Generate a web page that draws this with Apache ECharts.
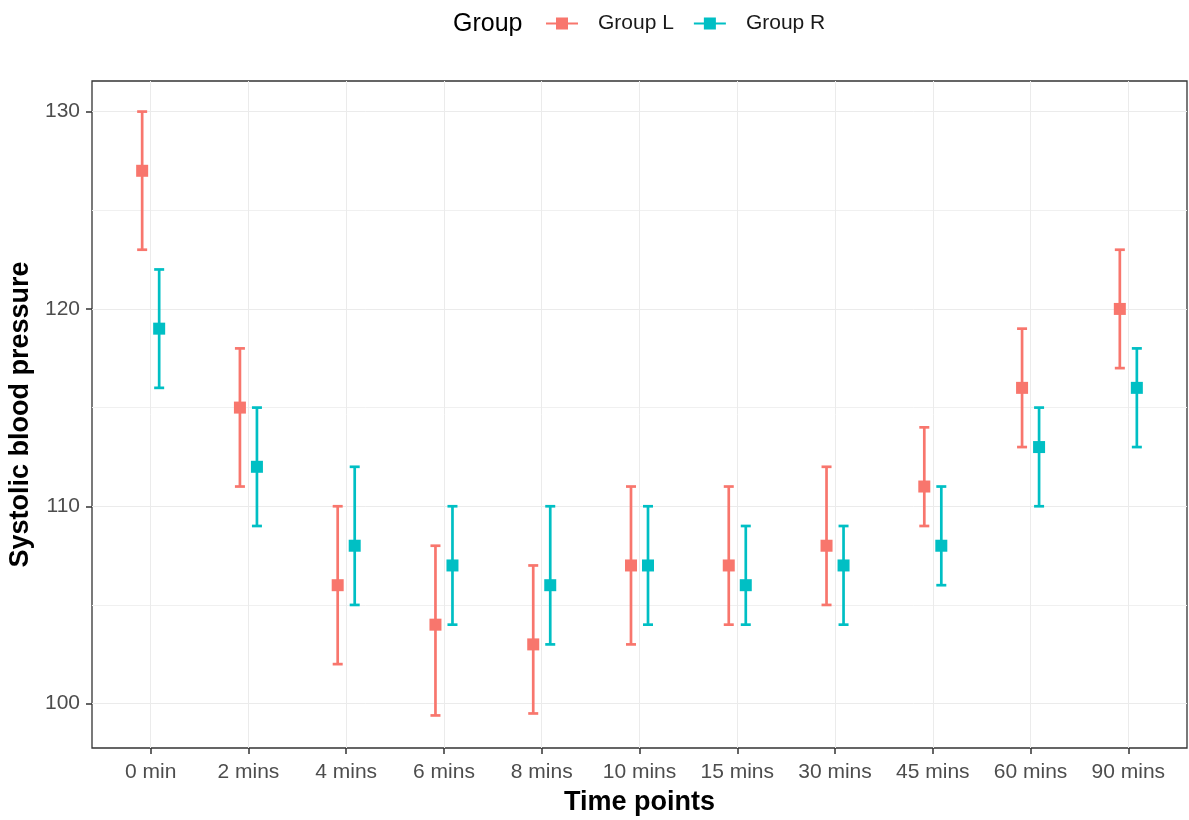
<!DOCTYPE html>
<html>
<head>
<meta charset="utf-8">
<title>Systolic blood pressure by time point</title>
<script src="https://cdn.jsdelivr.net/npm/echarts@6/dist/echarts.min.js"></script>
<style>
  html, body { margin: 0; padding: 0; background: #ffffff; }
  #chart { width: 1189px; height: 820px; }
</style>
</head>
<body>
<div id="chart"></div>
<script>
// Time points on the x axis
const categories = ['0 min', '2 mins', '4 mins', '6 mins', '8 mins', '10 mins', '15 mins', '30 mins', '45 mins', '60 mins', '90 mins'];

// Group L: mean systolic blood pressure with lower / upper bounds
const meanL  = [127, 115, 106, 104,  103,  107, 107, 108, 111, 116, 120];
const lowerL = [123, 111, 102, 99.4, 99.5, 103, 104, 105, 109, 113, 117];
const upperL = [130, 118, 110, 108,  107,  111, 111, 112, 114, 119, 123];

// Group R: mean systolic blood pressure with lower / upper bounds
const meanR  = [119, 112, 108, 107, 106, 107, 106, 107, 108, 113, 116];
const lowerR = [116, 109, 105, 104, 103, 104, 104, 104, 106, 110, 113];
const upperR = [122, 115, 112, 110, 110, 110, 109, 109, 111, 115, 118];

// Y axis tick labels (major) and minor grid values
const yTicks = [100, 110, 120, 130];
const yMinor = [105, 115, 125];

const groups = ['Group L', 'Group R'];
const colors = ['#F8766D', '#00BFC4'];
const dodge = 0.087;          // horizontal shift of each group from the category centre
const FONT = '"Liberation Sans", Arial, sans-serif';

const xIndex = categories.map((_, i) => i);

function points(mean, shift) {
  return mean.map((v, i) => [i + shift, v]);
}
function bars(lower, upper, shift) {
  return lower.map((lo, i) => [i + shift, lo, upper[i]]);
}

function errorBar(color) {
  return function (params, api) {
    const x = api.value(0);
    const lo = api.coord([x, api.value(1)]);
    const hi = api.coord([x, api.value(2)]);
    const half = 5;
    const style = { stroke: color, lineWidth: 2.7, fill: null };
    return {
      type: 'group',
      children: [
        { type: 'line', shape: { x1: lo[0], y1: lo[1], x2: hi[0], y2: hi[1] }, style },
        { type: 'line', shape: { x1: lo[0] - half, y1: lo[1], x2: lo[0] + half, y2: lo[1] }, style },
        { type: 'line', shape: { x1: hi[0] - half, y1: hi[1], x2: hi[0] + half, y2: hi[1] }, style }
      ]
    };
  };
}

const legendIcon = 'path://M0,5h32v2h-32z M10,0h12v12h-12z';

const chart = echarts.init(document.getElementById('chart'), null, { renderer: 'canvas' });

chart.setOption({
  animation: false,
  backgroundColor: '#ffffff',
  textStyle: { fontFamily: FONT },
  graphic: [{
    type: 'text',
    left: 453,
    top: 12,
    style: { text: 'Group', fontSize: 25, fontFamily: FONT, fill: '#000000' }
  }],
  legend: {
    left: 546,
    top: 13,
    padding: 0,
    itemWidth: 32,
    itemHeight: 12,
    itemGap: 20,
    textStyle: { fontSize: 21, color: '#1a1a1a', fontFamily: FONT, padding: [0, 0, 0, 15] },
    data: groups.map((g, k) => ({ name: g, icon: legendIcon, itemStyle: { color: colors[k] } }))
  },
  grid: {
    left: 92, right: 2, top: 81, bottom: 72,
    show: true,
    borderColor: '#333333',
    borderWidth: 1.3,
    outerBoundsMode: 'none'
  },
  xAxis: {
    type: 'value',
    min: -0.6,
    max: 10.6,
    name: 'Time points',
    nameLocation: 'middle',
    nameGap: 41,
    nameTextStyle: { fontSize: 27, fontWeight: 'bold', color: '#000000', fontFamily: FONT },
    axisLine: { show: false, onZero: false },
    axisTick: { show: true, length: 6, customValues: xIndex, lineStyle: { color: '#333333', width: 1.5 } },
    axisLabel: {
      customValues: xIndex,
      formatter: v => categories[Math.round(v)],
      fontSize: 21,
      color: '#4D4D4D',
      margin: 14,
      fontFamily: FONT
    },
    splitLine: { show: true, lineStyle: { color: '#EBEBEB', width: 1 } }
  },
  yAxis: [{
    type: 'value',
    min: 97.75,
    max: 131.55,
    name: 'Systolic blood pressure',
    nameLocation: 'middle',
    nameGap: 50,
    nameTextStyle: { fontSize: 27, fontWeight: 'bold', color: '#000000', fontFamily: FONT },
    axisLine: { show: false, onZero: false },
    axisTick: { show: true, length: 6, customValues: yTicks, lineStyle: { color: '#333333', width: 1.5 } },
    axisLabel: { customValues: yTicks, fontSize: 21, color: '#4D4D4D', margin: 12, fontFamily: FONT },
    splitLine: { show: true, lineStyle: { color: '#EBEBEB', width: 1 } }
  }, {
    type: 'value',
    position: 'left',
    min: 97.75,
    max: 131.55,
    axisLine: { show: false, onZero: false },
    axisTick: { show: false, customValues: yMinor },
    axisLabel: { show: false, customValues: yMinor },
    splitLine: { show: true, lineStyle: { color: '#F0F0F0', width: 1 } }
  }],
  series: [
    {
      name: groups[0], type: 'custom', renderItem: errorBar(colors[0]),
      data: bars(lowerL, upperL, -dodge), itemStyle: { color: colors[0] }, z: 2
    },
    {
      name: groups[1], type: 'custom', renderItem: errorBar(colors[1]),
      data: bars(lowerR, upperR, dodge), itemStyle: { color: colors[1] }, z: 2
    },
    {
      name: groups[0], type: 'scatter', symbol: 'rect', symbolSize: 12,
      data: points(meanL, -dodge), itemStyle: { color: colors[0], opacity: 1 }, z: 3
    },
    {
      name: groups[1], type: 'scatter', symbol: 'rect', symbolSize: 12,
      data: points(meanR, dodge), itemStyle: { color: colors[1], opacity: 1 }, z: 3
    }
  ]
});
</script>
</body>
</html>
